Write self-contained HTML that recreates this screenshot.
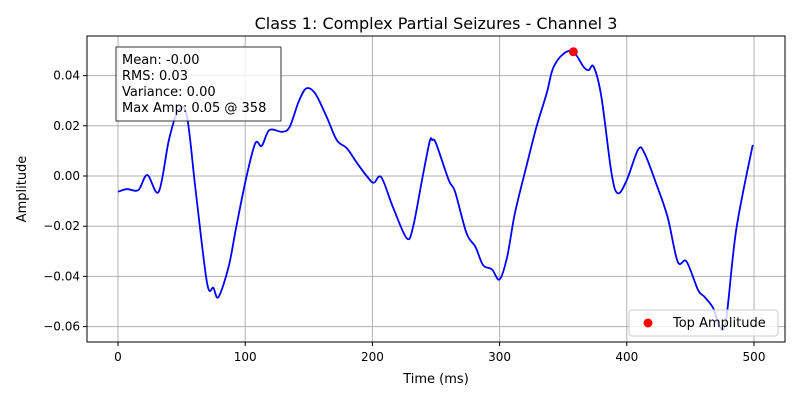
<!DOCTYPE html>
<html><head><meta charset="utf-8"><style>
body{margin:0;background:#fff;font-family:"Liberation Sans","DejaVu Sans",sans-serif}
svg text{font-family:"DejaVu Sans","Liberation Sans",sans-serif}
</style></head><body>
<svg id="chart" width="800" height="400" xmlns="http://www.w3.org/2000/svg">
<rect width="800" height="400" fill="#fff"/>
<g id="grid"></g>
<g id="ticks"></g>
<path id="line" fill="none" stroke="#0000ff" stroke-width="1.8"/>
<g id="pts"></g>
<rect x="87" y="36" width="698" height="306" fill="none" stroke="#000" stroke-width="1"/>
<text x="436" y="29" text-anchor="middle" font-size="16">Class 1: Complex Partial Seizures - Channel 3</text>
<text x="436" y="383" text-anchor="middle" font-size="13">Time (ms)</text>
<text transform="translate(26,189) rotate(-90)" text-anchor="middle" font-size="13">Amplitude</text>
<g>
<rect x="116" y="47" width="165" height="74" fill="#fff" fill-opacity="0.8" stroke="#333" stroke-width="1"/>
<text x="122" y="64" font-size="13">Mean: -0.00</text>
<text x="122" y="80" font-size="13">RMS: 0.03</text>
<text x="122" y="96" font-size="13">Variance: 0.00</text>
<text x="122" y="112" font-size="13">Max Amp: 0.05 @ 358</text>
</g>
<g>
<rect x="629" y="310" width="149" height="26" rx="3" fill="#fff" fill-opacity="0.8" stroke="#ccc"/>
<circle cx="648" cy="323" r="4.5" fill="#ff0000"/>
<text x="673" y="327" font-size="13">Top Amplitude</text>
</g>
</svg>
<script>
const times=[0,7,16,23,32,40,47,54,61,70,75,79,87,93,101,108,113,119,129,135,142,148,155,164,172,180,188,196,201,207,216,227,232,239,245,247,250,260,265,274,281,287,294,300,306,312,321,329,337,342,350,358,366,370,374,380,388,393,400,409,414,423,432,440,447,456,461,468,473,478,486,499];
const amps=[-0.0063,-0.0052,-0.0056,0.0004,-0.0063,0.0143,0.0256,0.0243,-0.0056,-0.0426,-0.0446,-0.0482,-0.0361,-0.0202,-0.0003,0.0131,0.0120,0.0183,0.0176,0.0196,0.0296,0.0349,0.0329,0.0236,0.0143,0.0110,0.0051,-0.0003,-0.0027,-0.0005,-0.0122,-0.0248,-0.0202,-0.0016,0.0137,0.0143,0.0130,-0.0016,-0.0063,-0.0228,-0.0282,-0.0355,-0.0372,-0.0412,-0.0321,-0.0149,0.0037,0.0196,0.0329,0.0429,0.0486,0.0495,0.0435,0.0422,0.0435,0.0316,0.0011,-0.0069,-0.0016,0.0106,0.0090,-0.0029,-0.0162,-0.0341,-0.0341,-0.0454,-0.0481,-0.0527,-0.0600,-0.0574,-0.0215,0.0124];
const peakT=[358];
const peakV=[0.0495];
const xTicks=[0,100,200,300,400,500];
const yTicks=[-0.06,-0.04,-0.02,0.00,0.02,0.04];
const NS="http://www.w3.org/2000/svg";
function X(t){return 118+t*1.272;}
function Y(v){return 176-v*2510;}
const grid=document.getElementById('grid'),ticks=document.getElementById('ticks');
function mk(tag,attrs,parent){const e=document.createElementNS(NS,tag);for(const k in attrs)e.setAttribute(k,attrs[k]);parent.appendChild(e);return e;}
xTicks.forEach(t=>{
  const g=mk('line',{x1:X(t),x2:X(t),y1:36,y2:342,stroke:'#b0b0b0','stroke-width':1},grid);
  
  
  mk('line',{x1:X(t),x2:X(t),y1:342,y2:346,stroke:'#000'},ticks);
  const tx=mk('text',{x:X(t),y:361,'text-anchor':'middle','font-size':12},ticks);
  tx.textContent=t;
  
  
});
yTicks.forEach(v=>{
  const g=mk('line',{x1:87,x2:785,y1:Y(v),y2:Y(v),stroke:'#b0b0b0','stroke-width':1},grid);
  
  
  mk('line',{x1:83,x2:87,y1:Y(v),y2:Y(v),stroke:'#000'},ticks);
  const tx=mk('text',{x:80,y:Y(v)+4,'text-anchor':'end','font-size':12},ticks);
  tx.textContent=(v<0?'\u2212':'')+Math.abs(v).toFixed(2);
  
  
});
const P=times.map((t,i)=>[X(t),Y(amps[i])]);
let d='M'+P[0][0]+','+P[0][1];
for(let i=0;i<P.length-1;i++){
  const p0=P[Math.max(0,i-1)],p1=P[i],p2=P[i+1],p3=P[Math.min(P.length-1,i+2)];
  const c1=[p1[0]+(p2[0]-p0[0])/6,p1[1]+(p2[1]-p0[1])/6];
  const c2=[p2[0]-(p3[0]-p1[0])/6,p2[1]-(p3[1]-p1[1])/6];
  d+=' C'+c1[0]+','+c1[1]+' '+c2[0]+','+c2[1]+' '+p2[0]+','+p2[1];
}
document.getElementById('line').setAttribute('d',d);
const pts=document.getElementById('pts');
peakT.forEach((t,i)=>{
  const c=mk('circle',{cx:X(t),cy:Y(peakV[i]),r:4.5,fill:'#ff0000'},pts);
  
  
});
</script>
</body></html>
